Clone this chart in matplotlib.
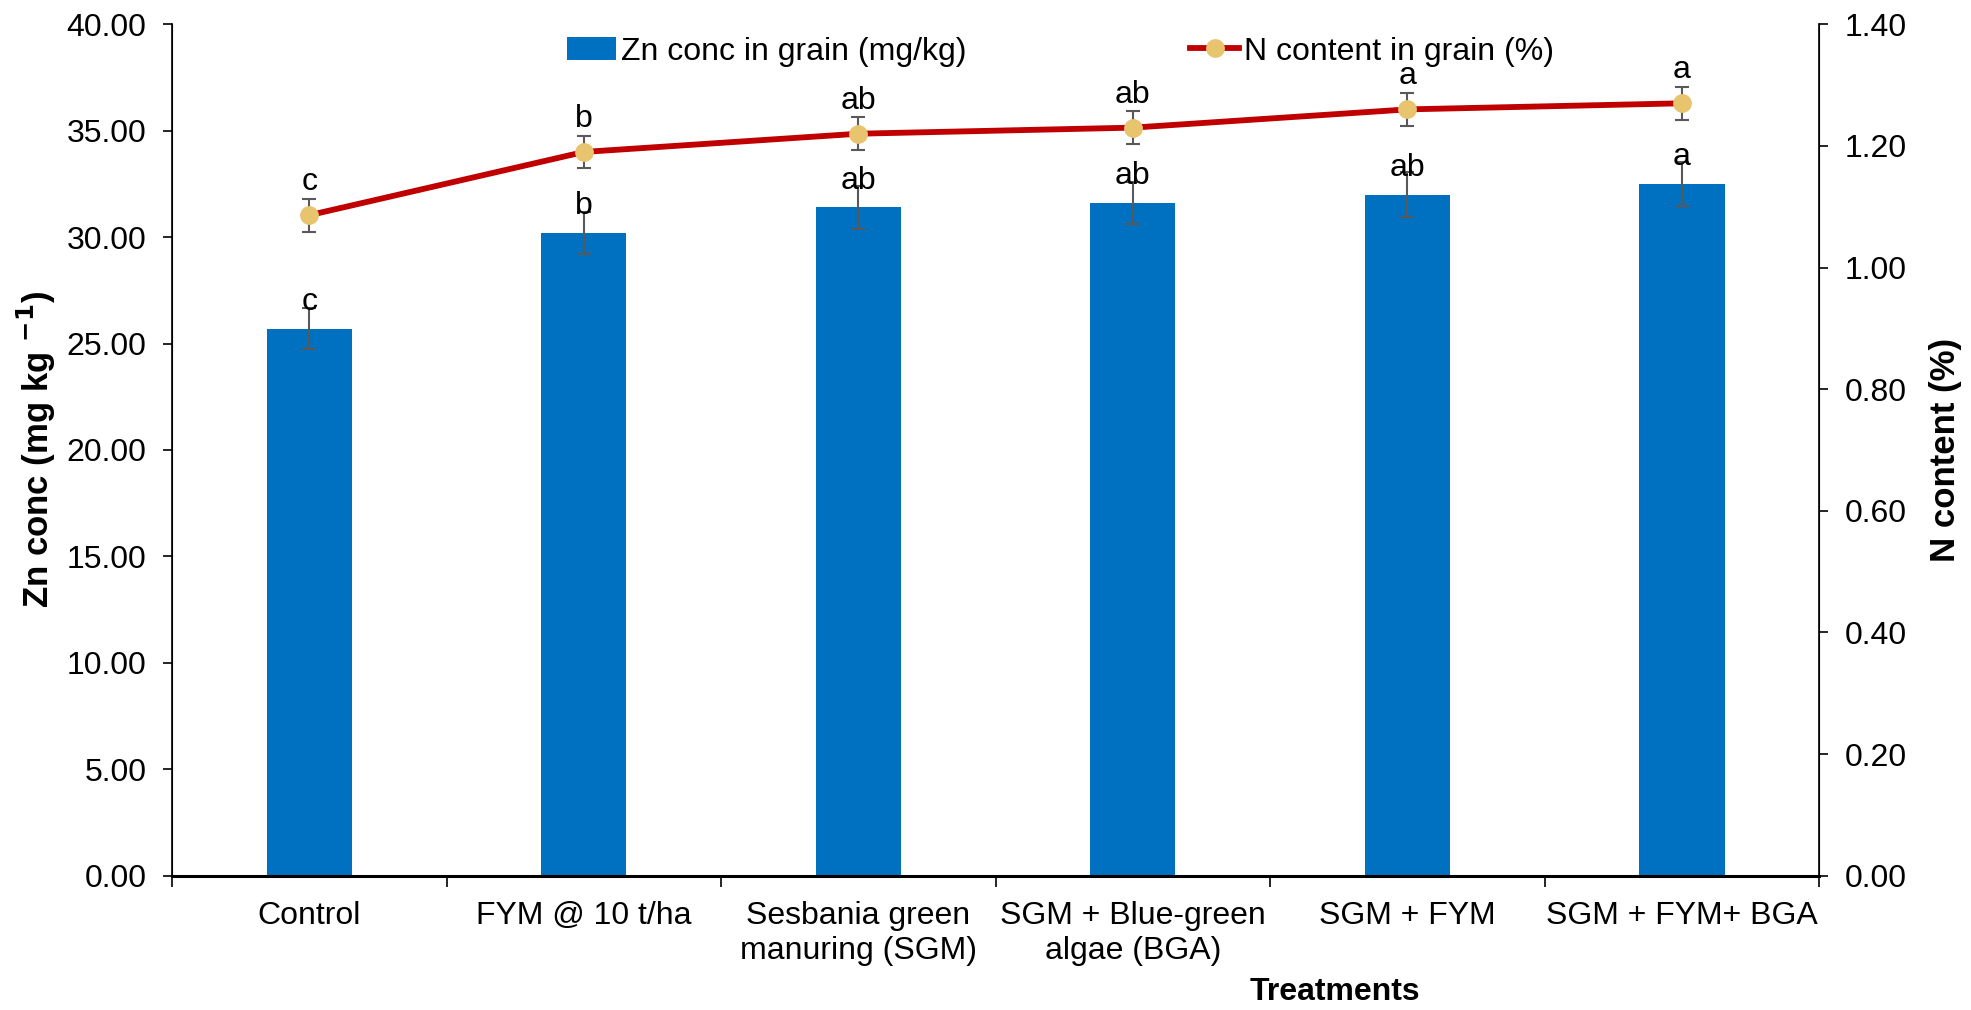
import numpy as np
import matplotlib
matplotlib.use("Agg")
import matplotlib.pyplot as plt
from matplotlib.ticker import FormatStrFormatter, FixedLocator

plt.rcParams['font.family'] = ['Liberation Sans', 'DejaVu Sans']

treatments = ['Control', 'FYM @ 10 t/ha', 'Sesbania green\nmanuring (SGM)',
              'SGM + Blue-green\nalgae (BGA)', 'SGM + FYM', 'SGM + FYM+ BGA']
zn_conc = [25.7, 30.2, 31.4, 31.6, 32.0, 32.5]
zn_err = [0.95, 1.0, 1.0, 1.0, 1.05, 1.05]
zn_letters = ['c', 'b', 'ab', 'ab', 'ab', 'a']
n_content = [1.086, 1.19, 1.22, 1.23, 1.26, 1.27]
n_err = [0.027, 0.027, 0.027, 0.027, 0.027, 0.027]
n_letters = ['c', 'b', 'ab', 'ab', 'a', 'a']

fs = 23
x = np.arange(len(treatments))

fig = plt.figure(figsize=(19.71, 10.10), dpi=100)
ax = fig.add_axes([0.0873, 0.133, 0.8357, 0.843])

# Zn bars with SE whiskers and significance letters
bars = ax.bar(x, zn_conc, width=0.31, color='#0070C0', label='Zn conc in grain (mg/kg)', zorder=2)
ax.errorbar(x, zn_conc, yerr=zn_err, fmt='none', ecolor='#595959', elinewidth=1.5,
            capsize=5, capthick=1.5, zorder=3)
for xi, v, t in zip(x, zn_conc, zn_letters):
    ax.annotate(t, (xi, v), xytext=(0, 13.5), textcoords='offset points',
                ha='center', va='baseline', fontsize=fs)

ax.set_xlim(-0.5, len(treatments) - 0.5)
ax.set_ylim(0, 40)
ax.set_yticks(np.arange(0, 40.1, 5))
ax.yaxis.set_major_formatter(FormatStrFormatter('%.2f'))
ax.set_xticks(x)
ax.set_xticklabels(treatments, fontsize=fs, linespacing=1.25)
ax.xaxis.set_minor_locator(FixedLocator(np.arange(-0.5, len(treatments), 1.0)))
ax.tick_params(axis='x', which='major', length=0, pad=18)
ax.tick_params(axis='x', which='minor', length=8, width=1.2, direction='out')
ax.tick_params(axis='y', labelsize=fs, length=6.5, width=1.2, pad=12)
ax.spines['top'].set_visible(False)
ax.spines['bottom'].set_linewidth(2.2)
ax.spines['left'].set_linewidth(1.2)
ax.set_ylabel('Zn conc (mg kg $^{\\mathbf{-1}}$)', fontsize=25, fontweight='bold', labelpad=6)
ax.set_xlabel('Treatments', fontsize=fs, fontweight='bold')
ax.xaxis.set_label_coords(0.706, -0.119)

# N content line on the secondary axis
ax2 = ax.twinx()
line, = ax2.plot(x, n_content, color='#C00000', linewidth=4.2, marker='o', markersize=12.5,
                 markerfacecolor='#E8C46E', markeredgecolor='#E8C46E',
                 label='N content in grain (%)', zorder=4)
ax2.errorbar(x, n_content, yerr=n_err, fmt='none', ecolor='#595959', elinewidth=1.5,
             capsize=5, capthick=1.5, zorder=3)
for xi, v, t in zip(x, n_content, n_letters):
    ax2.annotate(t, (xi, v), xytext=(0, 18), textcoords='offset points',
                 ha='center', va='baseline', fontsize=fs)
ax2.set_ylim(0, 1.4)
ax2.set_yticks(np.arange(0, 1.41, 0.2))
ax2.yaxis.set_major_formatter(FormatStrFormatter('%.2f'))
ax2.tick_params(axis='y', labelsize=fs, length=6.5, width=1.2, pad=12)
ax2.spines['top'].set_visible(False)
ax2.spines['right'].set_linewidth(1.2)
ax2.set_ylabel('N content (%)', fontsize=25, fontweight='bold', labelpad=16)

fig.legend([bars, line], ['Zn conc in grain (mg/kg)', 'N content in grain (%)'],
           loc='center', bbox_to_anchor=(0.538, 0.949), ncol=2, frameon=False,
           fontsize=fs, handlelength=1.55, handletextpad=0.15, columnspacing=7)

fig.savefig('out.png', dpi=100)
